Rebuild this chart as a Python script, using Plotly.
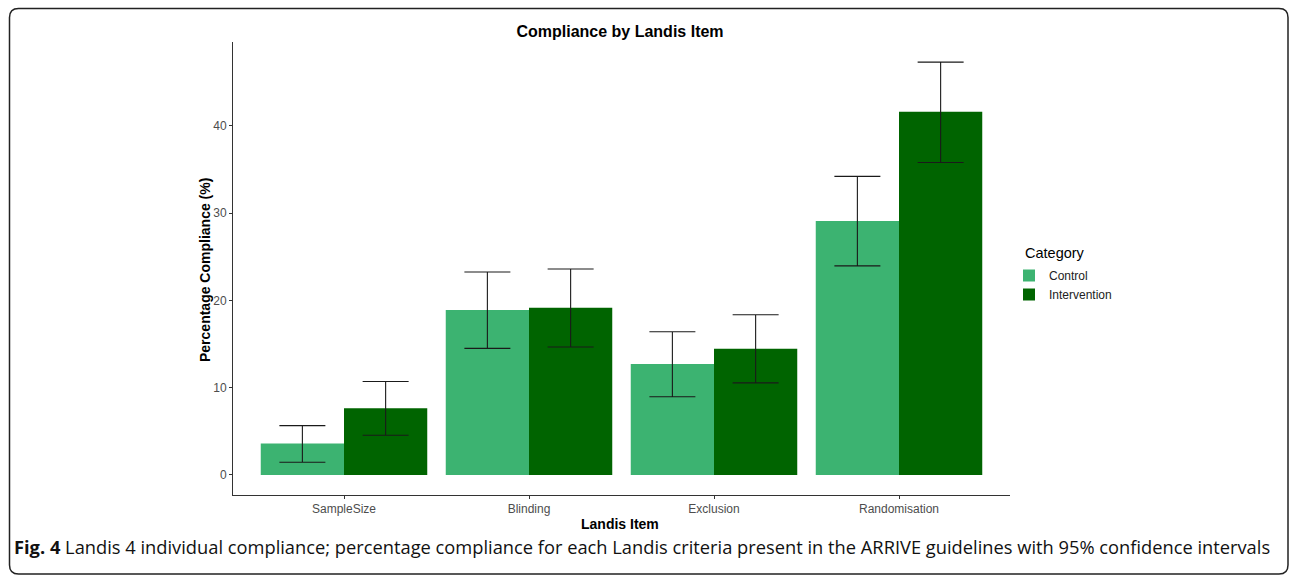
import plotly.graph_objects as go

# Landis items and compliance (%) with 95% confidence limits
items = ["SampleSize", "Blinding", "Exclusion", "Randomisation"]
control = [3.6, 18.9, 12.7, 29.1]
control_lo = [1.45, 14.5, 8.95, 23.95]
control_hi = [5.65, 23.25, 16.4, 34.2]
intervention = [7.65, 19.15, 14.45, 41.6]
intervention_lo = [4.55, 14.65, 10.55, 35.8]
intervention_hi = [10.7, 23.6, 18.35, 47.3]
y_ticks = [0, 10, 20, 30, 40]

W, H = 1290, 576
ML, MR, MT, MB = 233, 280, 42, 81
PW, PH = W - ML - MR, H - MT - MB


def px_x(p):
    return (p - ML) / PW


def px_y(p):
    return (H - MB - p) / PH


FONT = "Liberation Sans, Arial, sans-serif"


def bar(name, vals, lo, hi, color):
    return go.Bar(
        name=name, x=items, y=vals, marker=dict(color=color, line=dict(width=0)),
        error_y=dict(type="data", symmetric=False,
                     array=[h - v for h, v in zip(hi, vals)],
                     arrayminus=[v - l for v, l in zip(vals, lo)],
                     color="#1a1a1a", thickness=1.1, width=23),
    )


fig = go.Figure([
    bar("Control", control, control_lo, control_hi, "#3CB371"),
    bar("Intervention", intervention, intervention_lo, intervention_hi, "#006400"),
])

fig.update_layout(
    width=W, height=H, margin=dict(l=ML, r=MR, t=MT, b=MB),
    paper_bgcolor="white", plot_bgcolor="white",
    barmode="group", bargap=0.1, bargroupgap=0,
    font=dict(family=FONT, color="#000"),
    title=dict(text="<b>Compliance by Landis Item</b>", x=px_x(620), xref="paper",
               xanchor="center", y=1 - 31 / H, yref="container", yanchor="middle",
               font=dict(size=16, color="#000")),
    legend=dict(x=px_x(1009), y=px_y(261), xanchor="left", yanchor="top",
                font=dict(size=12, color="#222"), itemwidth=30,
                tracegroupgap=0, bgcolor="rgba(0,0,0,0)"),
    showlegend=True,
)

fig.update_xaxes(
    range=[-0.6, 3.6], showline=True, linecolor="#333", linewidth=1,
    ticks="outside", ticklen=3, tickcolor="#333", showgrid=False,
    tickfont=dict(size=12, color="#4d4d4d"),
)
fig.update_yaxes(
    range=[-2.3, 49.6], showline=True, linecolor="#333", linewidth=1,
    ticks="outside", ticklen=3, tickcolor="#333", showgrid=False, zeroline=False,
    tickvals=y_ticks, tickfont=dict(size=12, color="#4d4d4d"),
)

# Axis titles and legend heading
fig.add_annotation(text="<b>Landis Item</b>", x=px_x(620), y=px_y(524),
                   xref="paper", yref="paper", xanchor="center", yanchor="middle",
                   showarrow=False, font=dict(size=14, color="#000"))
fig.add_annotation(text="<b>Percentage Compliance (%)</b>", x=px_x(205), y=px_y(270),
                   xref="paper", yref="paper", xanchor="center", yanchor="middle",
                   textangle=-90, showarrow=False, font=dict(size=14, color="#000"))
fig.add_annotation(text="Category", x=px_x(1023), y=px_y(253),
                   xref="paper", yref="paper", xanchor="left", yanchor="middle",
                   showarrow=False, font=dict(size=14.5, color="#000"))

# Rounded frame around the figure and its caption
x0, x1, y0, y1, r = px_x(9.5), px_x(1288), px_y(8.5), px_y(574), 9
rx, ry = r / PW, r / PH
path = (f"M {x0+rx},{y0} L {x1-rx},{y0} Q {x1},{y0} {x1},{y0-ry} "
        f"L {x1},{y1+ry} Q {x1},{y1} {x1-rx},{y1} "
        f"L {x0+rx},{y1} Q {x0},{y1} {x0},{y1+ry} "
        f"L {x0},{y0-ry} Q {x0},{y0} {x0+rx},{y0} Z")
fig.add_shape(type="path", path=path, xref="paper", yref="paper",
              line=dict(color="#222", width=1.5), layer="above")

fig.add_annotation(
    text="<b>Fig. 4</b> Landis 4 individual compliance; percentage compliance for each Landis "
         "criteria present in the ARRIVE guidelines with 95% confidence intervals",
    x=px_x(12), y=px_y(546), xref="paper", yref="paper", xanchor="left", yanchor="middle",
    showarrow=False, font=dict(family="Open Sans, Noto Sans, sans-serif", size=18.3, color="#111"),
)

fig.write_html("out.html")
